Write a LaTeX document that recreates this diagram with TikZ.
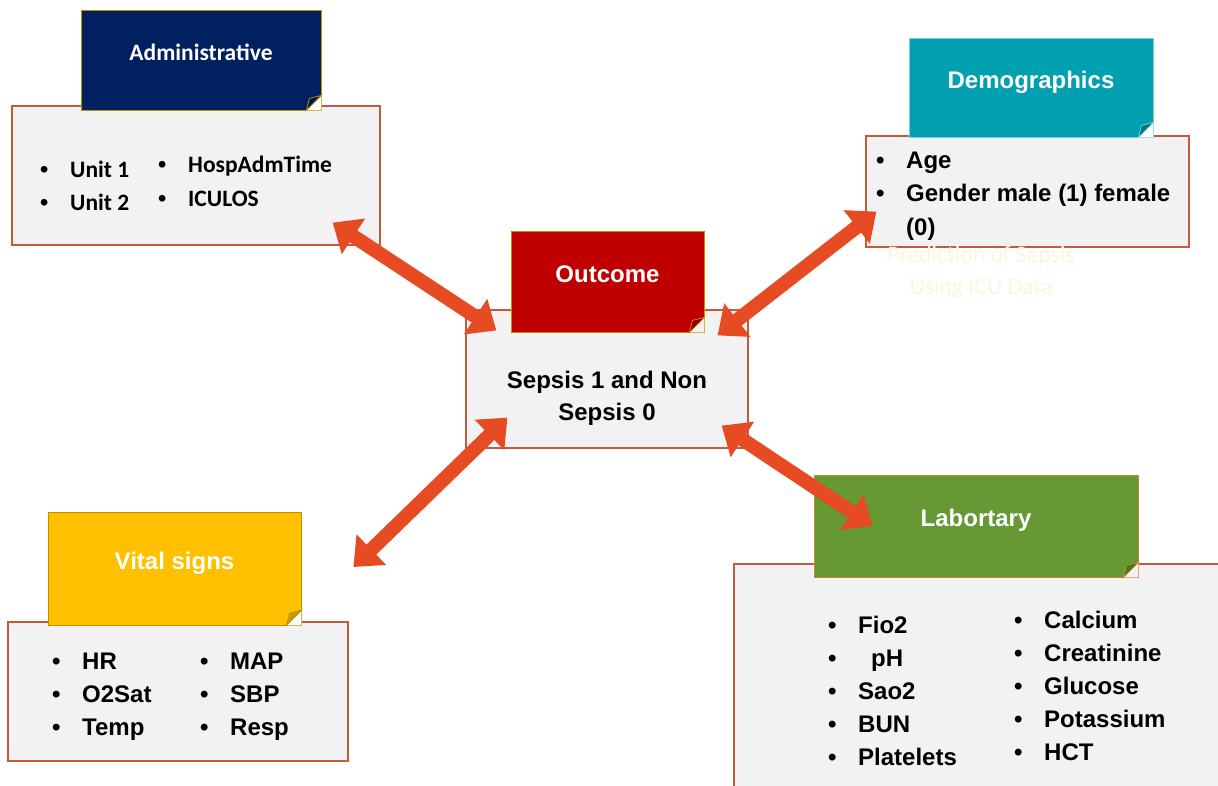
\documentclass[tikz,border=0pt]{standalone}
\usepackage{fontspec}
\setmainfont{Liberation Sans}
\newfontfamily\calibri{Carlito}
\usetikzlibrary{arrows.meta}

\definecolor{navyHdr}{HTML}{002060}
\definecolor{tealHdr}{HTML}{00A0B0}
\definecolor{redHdr}{HTML}{C00000}
\definecolor{goldHdr}{HTML}{FFC000}
\definecolor{greenHdr}{HTML}{669933}
\definecolor{hdrEdge}{HTML}{BF9000}
\definecolor{labEdge}{HTML}{C98A2E}
\definecolor{tealEdge}{HTML}{7FCFD8}
\definecolor{bodyFill}{HTML}{F2F2F2}
\definecolor{bodyLine}{HTML}{C55A3C}
\definecolor{arrowRed}{HTML}{E64B23}
\definecolor{faintText}{HTML}{FDF6DA}

\newcommand\bul{\makebox[30pt][l]{\rmfamily•}}
% dog-ear at the lower right corner of a header
\newcommand\foldCorner[4]{%
  \fill[#3] ([xshift=-15pt]#1.south east) -- (#1.south east) -- ([yshift=15pt]#1.south east) -- cycle;
  \filldraw[fill=#2, draw=#4, line width=0.8pt] ([xshift=-15pt]#1.south east) -- ([yshift=15pt]#1.south east)
    -- ([xshift=-12pt,yshift=12pt]#1.south east) -- cycle;}

\begin{document}
\begin{tikzpicture}
[x=1pt,y=-1pt,
  bodyBox/.style={draw=bodyLine, line width=1.2pt, fill=bodyFill, inner sep=0},
  headBox/.style 2 args={fill=#1, draw=#2, line width=0.8pt, inner sep=0, text=white,
    font=\bfseries\fontsize{24}{28}\selectfont, text height=17pt, text depth=16pt},
  itemText/.style={anchor=base west, inner sep=0, font=\bfseries\fontsize{24}{33}\selectfont},
  linkArrow/.style={arrowRed, line width=14pt,
    {Triangle[length=25pt,width=41pt]}-{Triangle[length=25pt,width=41pt]}}]
\useasboundingbox (0,0) rectangle (1218,785);
\clip (0,0) rectangle (1218,785);
\fill[white] (0,0) rectangle (1218,785);

%% boxes
\node[bodyBox, minimum width=368pt, minimum height=139pt] (adminBody) at (196,175.5) {};
\node[bodyBox, minimum width=323pt, minimum height=111pt] (demoBody) at (1027.5,191.5) {};
\node[bodyBox, minimum width=282pt, minimum height=138pt] (outBody) at (607,379) {};
\node[bodyBox, minimum width=340pt, minimum height=139pt] (vitalBody) at (178,691.5) {};
\node[bodyBox, minimum width=496pt, minimum height=236pt] (labBody) at (982,682) {};

%% headers
\node[headBox={navyHdr}{hdrEdge}, minimum width=240pt, minimum height=100pt,
  font=\calibri\bfseries\fontsize{23.5}{28}\selectfont] (adminHead) at (201,60) {Administrative};
\node[headBox={tealHdr}{tealEdge}, minimum width=244pt, minimum height=99pt] (demoHead) at (1031,87.5) {Demographics};
\node[headBox={redHdr}{hdrEdge}, minimum width=193pt, minimum height=101pt] (outHead) at (607.5,281.5) {Outcome};
\node[headBox={goldHdr}{hdrEdge}, minimum width=253pt, minimum height=113pt] (vitalHead) at (174.5,568.5) {Vital signs};
\node[headBox={greenHdr}{labEdge}, minimum width=324pt, minimum height=102pt] (labHead) at (976,526) {Labortary};
\foldCorner{adminHead}{navyHdr!70!black}{white}{hdrEdge}
\foldCorner{demoHead}{tealHdr!75!black}{white}{tealEdge}
\foldCorner{outHead}{redHdr!75!black}{bodyFill}{hdrEdge}
\foldCorner{vitalHead}{goldHdr!80!black}{white}{hdrEdge}
\foldCorner{labHead}{greenHdr!75!black}{bodyFill}{labEdge}

%% lists
\foreach \txt [count=\i] in {Unit 1, Unit 2}
  \node[itemText, font=\calibri\bfseries\fontsize{23.5}{33}\selectfont] (admL\i) at (40,{144+33*\i}) {\bul\txt};
\foreach \txt [count=\i] in {HospAdmTime, ICULOS}
  \node[itemText, font=\calibri\bfseries\fontsize{23.5}{33}\selectfont] (admR\i) at (158,{138+34*\i}) {\bul\txt};
\foreach \txt [count=\i] in {Age, Gender male (1) female}
  \node[itemText] (demo\i) at (876,{135.5+33*\i}) {\bul\txt};
\node[itemText] (demo3) at (876,235) {\hspace*{30pt}(0)};
\node[inner sep=0, align=center, font=\bfseries\fontsize{24}{32}\selectfont] (outText) at (607,398)
  {Sepsis 1 and Non\\Sepsis 0};
\foreach \txt [count=\i] in {HR, O2Sat, Temp}
  \node[itemText] (vitL\i) at (52,{636.5+33*\i}) {\bul\txt};
\foreach \txt [count=\i] in {MAP, SBP, Resp}
  \node[itemText] (vitR\i) at (200,{636.5+33*\i}) {\bul\txt};
\foreach \txt [count=\i] in {Fio2, \hspace{13pt}pH, Sao2, BUN, Platelets}
  \node[itemText] (labL\i) at (828,{600.5+33*\i}) {\bul\txt};
\foreach \txt [count=\i] in {Calcium, Creatinine, Glucose, Potassium, HCT}
  \node[itemText] (labR\i) at (1014,{595.5+33*\i}) {\bul\txt};
\node[inner sep=0, align=center, text=faintText, font=\calibri\fontsize{23.7}{32}\selectfont] (ghost) at (981,272)
  {Prediction of Sepsis\\Using ICU Data};

%% arrows
\draw[linkArrow] ([shift={(-48,-23)}]adminBody.south east) -- ([shift={(31,21)}]outBody.north west);
\draw[linkArrow] ([shift={(11,-36)}]demoBody.south west) -- ([shift={(-31,26)}]outBody.north east);
\draw[linkArrow] ([shift={(42,-31)}]outBody.south west) -- ([shift={(52,-1.5)}]vitalHead.east);
\draw[linkArrow] ([shift={(-27,-23)}]outBody.south east) -- ([shift={(59,0)}]labHead.west);
\end{tikzpicture}
\end{document}
